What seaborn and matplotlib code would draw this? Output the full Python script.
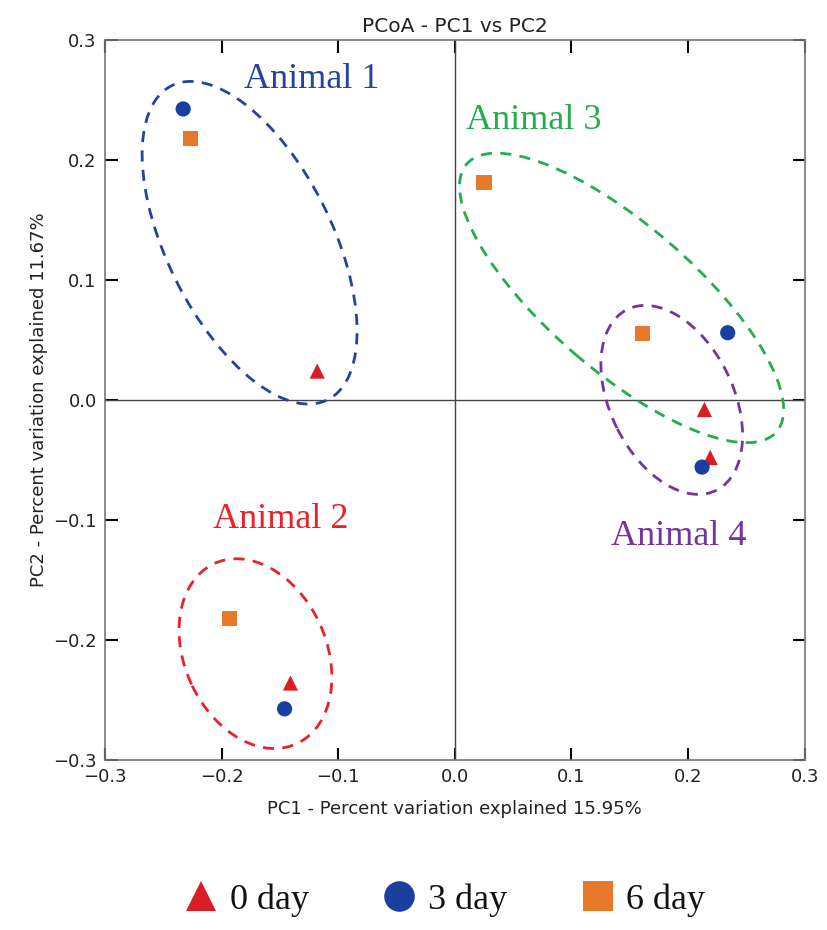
import pandas as pd
import seaborn as sns
import matplotlib.pyplot as plt
from matplotlib.patches import Ellipse
from matplotlib.lines import Line2D

# sample coordinates
day_names = ['0 day', '3 day', '6 day']
pc1_day0 = [-0.118, -0.141, 0.214, 0.219]
pc2_day0 = [0.024, -0.236, -0.008, -0.048]
pc1_day3 = [-0.233, -0.146, 0.234, 0.212]
pc2_day3 = [0.2425, -0.2575, 0.056, -0.056]
pc1_day6 = [-0.227, -0.193, 0.025, 0.161]
pc2_day6 = [0.218, -0.1825, 0.181, 0.0556]

# group ellipses: center x, center y, width, height, angle
animals = ['Animal 1', 'Animal 2', 'Animal 3', 'Animal 4']
ell_cx = [-0.176, -0.171, 0.143, 0.186]
ell_cy = [0.131, -0.2115, 0.085, 0.0]
ell_w = [0.294, 0.166, 0.347, 0.169]
ell_h = [0.141, 0.121, 0.123, 0.105]
ell_ang = [-62.6, -63.7, -39.8, -62.5]
label_x = [-0.123, -0.149, 0.068, 0.192]
label_y = [0.267, -0.100, 0.233, -0.114]
animal_colors = ['#2443a0', '#e8222a', '#23ad4f', '#7434a0']

df = pd.DataFrame({
    'PC1': pc1_day0 + pc1_day3 + pc1_day6,
    'PC2': pc2_day0 + pc2_day3 + pc2_day6,
    'day': [day_names[0]] * 4 + [day_names[1]] * 4 + [day_names[2]] * 4,
})

day_colors = {'0 day': '#d81e24', '3 day': '#1a3f9e', '6 day': '#e8782a'}
day_markers = {'0 day': '^', '3 day': 'o', '6 day': 's'}

sns.set_style('white')
fig = plt.figure(figsize=(8.27, 9.3), dpi=100)
ax = fig.add_axes([0.127, 0.183, 0.846, 0.774])

ax.axhline(0, color='#444444', lw=1, zorder=1)
ax.axvline(0, color='#444444', lw=1, zorder=1)

for i in range(len(animals)):
    e = Ellipse((ell_cx[i], ell_cy[i]), ell_w[i], ell_h[i], angle=ell_ang[i],
                fill=False, ls=(0, (4, 3)), lw=2, ec=animal_colors[i], zorder=2)
    ax.add_patch(e)
    ax.text(label_x[i], label_y[i], animals[i], color=animal_colors[i],
            fontsize=26, family='Liberation Serif', ha='center', va='center')

sns.scatterplot(data=df, x='PC1', y='PC2', hue='day', style='day',
                palette=day_colors, markers=day_markers, s=120,
                edgecolor='none', legend=False, ax=ax, zorder=3)

ax.set_xlim(-0.3, 0.3)
ax.set_ylim(-0.3, 0.3)
ax.set_xticks([-0.3, -0.2, -0.1, 0.0, 0.1, 0.2, 0.3])
ax.set_yticks([-0.3, -0.2, -0.1, 0.0, 0.1, 0.2, 0.3])
ax.tick_params(direction='in', top=True, right=True, bottom=True, left=True,
               length=9, width=1.5, labelsize=13, colors='black', pad=6)
ax.tick_params(axis='both', labelcolor='#222222')
for sp in ax.spines.values():
    sp.set_color('#777777')
    sp.set_linewidth(1.2)

ax.set_title('PCoA - PC1 vs PC2', fontsize=14.5, color='#222222', pad=6)
ax.set_xlabel('PC1 - Percent variation explained 15.95%', fontsize=13, color='#222222', labelpad=10)
ax.set_ylabel('PC2 - Percent variation explained 11.67%', fontsize=13, color='#222222', labelpad=4)

handles = [Line2D([], [], ls='none', marker=day_markers[d], color=day_colors[d],
                  markersize=22, markeredgewidth=0) for d in day_names]
fig.legend(handles, day_names, loc='center', bbox_to_anchor=(0.535, 1 - 900 / 930),
           ncol=3, frameon=False,
           prop={'family': 'Liberation Serif', 'size': 26},
           labelcolor='#111111',
           handletextpad=0.2, columnspacing=1.9, handlelength=1.2)

fig.savefig('out.png', dpi=100)
